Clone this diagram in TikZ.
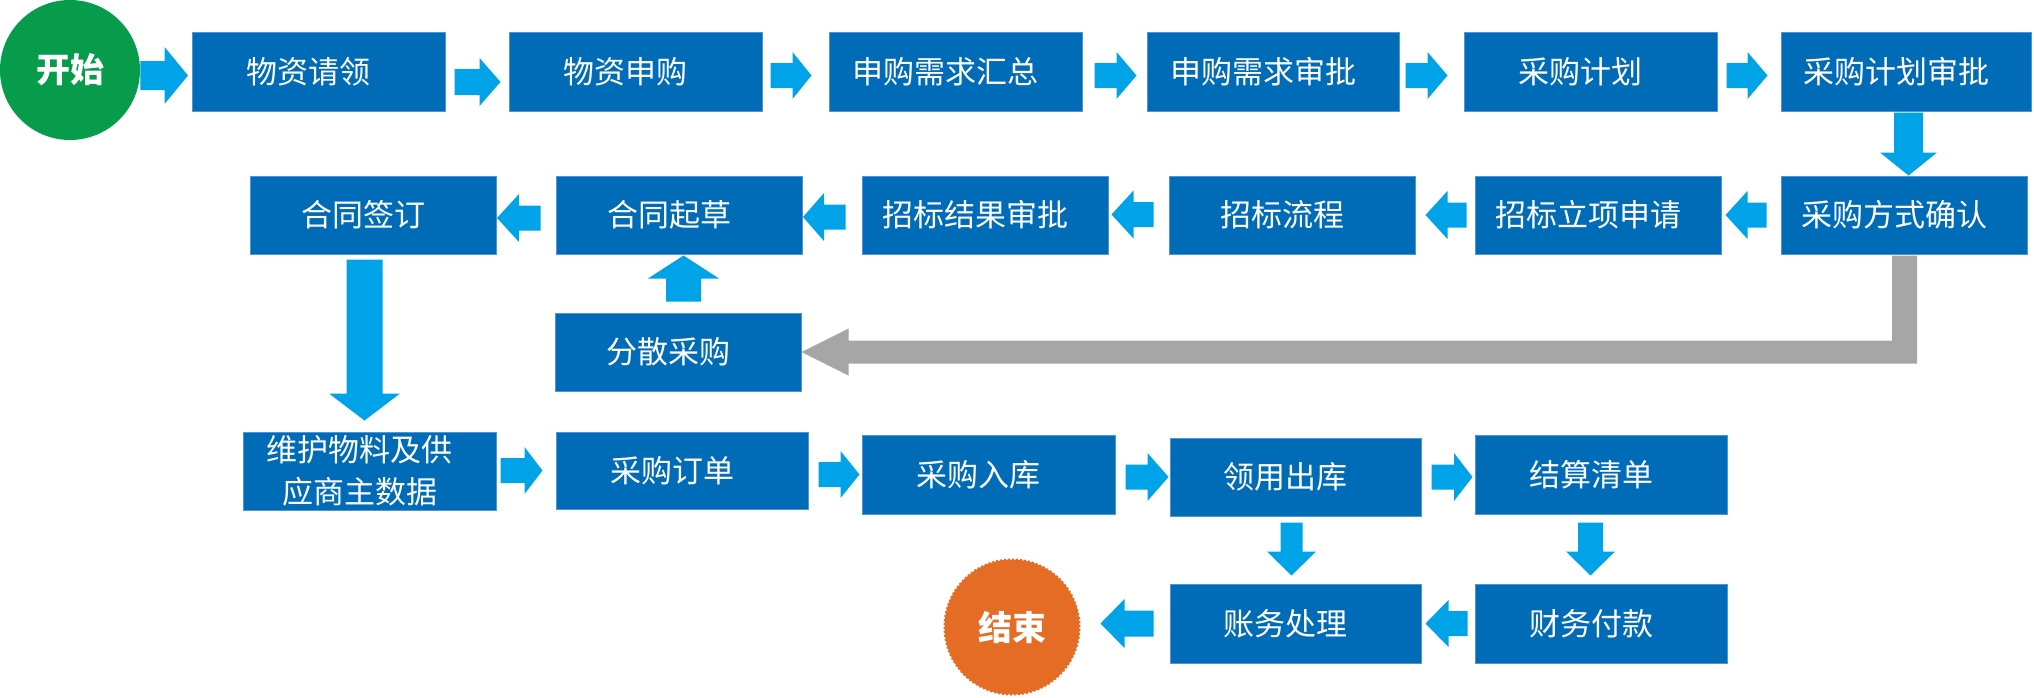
\documentclass[tikz,border=0pt]{standalone}
\usepackage{fontspec}
\newfontfamily\cjk{Noto Sans CJK SC}
\usetikzlibrary{calc}
\definecolor{boxc}{RGB}{0,108,184}
\definecolor{boxedge}{RGB}{80,150,215}
\definecolor{arrowc}{RGB}{0,163,232}
\definecolor{grayc}{RGB}{166,166,166}
\definecolor{startc}{RGB}{6,156,76}
\definecolor{endc}{RGB}{228,108,36}
\newcommand\mytx[1]{\hspace*{-5pt}#1\hspace*{5pt}}
% block arrow from point #2 to point #3; shaft width #4, head width #5, head length #6 (all in px)
\newcommand\barrow[6][arrowc]{%
  \coordinate (bA) at #2;
  \coordinate (bB) at #3;
  \pgfmathsetmacro\bS{#4/4}\pgfmathsetmacro\bH{#5/4}\pgfmathsetmacro\bL{#6/2}%
  \coordinate (bM) at ($(bB)!\bL pt!(bA)$);
  \fill[#1] ($(bA)!\bS pt!90:(bB)$) -- ($(bM)!\bS pt!90:(bB)$) -- ($(bM)!\bH pt!90:(bB)$) -- (bB)
     -- ($(bM)!\bH pt!-90:(bB)$) -- ($(bM)!\bS pt!-90:(bB)$) -- ($(bA)!\bS pt!-90:(bB)$) -- cycle;}
\tikzset{
  box/.style={rectangle, fill=boxc, draw=boxedge, line width=0.5pt, text=white,
    font=\cjk\fontsize{15.5}{20.75}\selectfont, minimum width=126.5pt, minimum height=39.5pt,
    inner sep=0pt, align=center},
  term/.style={circle, inner sep=0pt, text=white, font=\cjk\bfseries\fontsize{17}{20}\selectfont}
}
\begin{document}
\begin{tikzpicture}[x=0.5pt,y=-0.5pt]
\useasboundingbox (0,0) rectangle (2034,697);
% terminals
\node[term, fill=startc, minimum size=70pt] (st) at (70,70) {开始};
\node[term, fill=endc, draw=endc, densely dotted, line width=1pt, minimum size=67.5pt] (fin) at (1012,627) {结束};
% row 1
\node[box] (n1) at (318.5,71.5) {\mytx{物资请领}};
\node[box] (n2) at (635.5,71.5) {\mytx{物资申购}};
\node[box] (n3) at (955.5,71.5) {\mytx{申购需求汇总}};
\node[box, minimum width=126pt] (n4) at (1273,71.5) {\mytx{申购需求审批}};
\node[box] (n5) at (1590.5,71.5) {\mytx{采购计划}};
\node[box, minimum width=125pt] (n6) at (1906,71.5) {\mytx{采购计划审批}};
% row 2
\node[box, minimum width=123pt, minimum height=39pt] (n7) at (373,215) {\mytx{合同签订}};
\node[box, minimum width=123pt, minimum height=39pt] (n8) at (679,215) {\mytx{合同起草}};
\node[box, minimum width=123pt, minimum height=39pt] (n9) at (985,215) {\mytx{招标结果审批}};
\node[box, minimum width=123pt, minimum height=39pt] (n10) at (1292,215) {\mytx{招标流程}};
\node[box, minimum width=123pt, minimum height=39pt] (n11) at (1598,215) {\mytx{招标立项申请}};
\node[box, minimum width=123pt, minimum height=39pt] (n12) at (1904,215) {\mytx{采购方式确认}};
\node[box, minimum width=123pt, minimum height=39pt] (fs) at (678,352) {\mytx{分散采购}};
% row 3
\node[box, minimum height=39pt] (n13) at (369.5,471) {\mytx{维护物料及供}\\\mytx{应商主数据}};
\node[box, minimum width=126pt, minimum height=38.5pt] (n14) at (682,470.5) {\mytx{采购订单}};
\node[box] (n15) at (988.5,474.5) {\mytx{采购入库}};
\node[box, minimum width=125.5pt, minimum height=39pt] (n16) at (1295.5,477) {\mytx{领用出库}};
\node[box, minimum width=126pt] (n17) at (1601,474.5) {\mytx{结算清单}};
% row 4
\node[box, minimum width=125.5pt] (n18) at (1295.5,623.5) {\mytx{账务处理}};
\node[box, minimum width=126pt] (n19) at (1601,623.5) {\mytx{财务付款}};
% row 1 arrows
\barrow{($(st.east)+(0,5.5)$)}{($(n1.west|-bA)+(-3.5,0)$)}{29}{57}{23.5}
\barrow{($(n1.east)+(9,10.5)$)}{($(n2.west|-bA)+(-8,0)$)}{26}{48}{21}
\barrow{($(n2.east)+(8,4)$)}{($(n3.west|-bA)+(-17,0)$)}{25}{47}{19}
\barrow{($(n3.east)+(12,4)$)}{($(n4.west|-bA)+(-10,0)$)}{25}{47}{20}
\barrow{($(n4.east)+(6,4)$)}{($(n5.west|-bA)+(-16,0)$)}{25}{47}{20}
\barrow{($(n5.east)+(9,4)$)}{($(n6.west|-bA)+(-13,0)$)}{25}{47}{20}
\barrow{($(n6.south)+(2.5,1)$)}{(n12.north-|bA)}{29}{57}{23}
% row 2 arrows
\barrow{($(n12.west)+(-14,0)$)}{($(n11.east|-bA)+(4,0)$)}{25}{48}{22}
\barrow{($(n11.west)+(-8,0)$)}{($(n10.east|-bA)+(10,0)$)}{25}{48}{22}
\barrow{($(n10.west)+(-15,-0.5)$)}{($(n9.east|-bA)+(3,0)$)}{25}{48}{22}
\barrow{($(n9.west)+(-16,2)$)}{($(n8.east|-bA)+(0.5,0)$)}{25}{48}{21}
\barrow{($(n8.west)+(-15,3)$)}{($(n7.east|-bA)+(0.5,0)$)}{25}{48}{22}
\barrow{($(n7.south)+(-8.5,5)$)}{($(n13.north-|bA)+(0,-11)$)}{36}{71}{27}
\barrow{($(fs.north)+(5.5,-11)$)}{($(n8.south-|bA)+(0,1)$)}{35}{71}{23}
% gray connector
\fill[grayc] ($(n12.south)+(-12,1)$) -- ($(n12.south|-fs.east)+(-12,-11.5)$)
  -- ($(fs.east)+(47,-11.5)$) -- ($(fs.east)+(47,-23.5)$) -- (fs.east)
  -- ($(fs.east)+(47,23.5)$) -- ($(fs.east)+(47,11.5)$)
  -- ($(n12.south|-fs.east)+(13,11.5)$) -- ($(n12.south)+(13,1)$) -- cycle;
% row 3 arrows
\barrow{($(n13.east)+(4,-0.5)$)}{($(n14.west|-bA)+(-13,0)$)}{25}{47}{18}
\barrow{($(n14.east)+(10,4)$)}{($(n15.west|-bA)+(-2,0)$)}{25}{47}{19}
\barrow{($(n15.east)+(10,2.5)$)}{($(n16.west|-bA)+(-1,0)$)}{25}{48}{21}
\barrow{($(n16.east)+(10,0)$)}{($(n17.west|-bA)+(-2,0)$)}{25}{48}{18.5}
\barrow{($(n16.south)+(-4,6)$)}{($(n18.north-|bA)+(0,-8)$)}{22}{49}{24}
\barrow{($(n17.south)+(-10.5,8)$)}{($(n19.north-|bA)+(0,-8)$)}{25}{49}{24}
% row 4 arrows
\barrow{($(n19.west)+(-7,0)$)}{($(n18.east|-bA)+(4,0)$)}{25}{47}{23}
\barrow{($(n18.west)+(-16,0)$)}{($(fin.east|-bA)+(20,0)$)}{26}{49}{24}
\end{tikzpicture}
\end{document}
